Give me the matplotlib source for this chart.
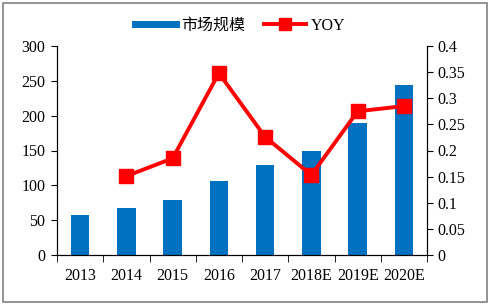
import matplotlib
matplotlib.use("Agg")
import matplotlib.pyplot as plt
from matplotlib.patches import Rectangle
from matplotlib.lines import Line2D

categories = ["2013", "2014", "2015", "2016", "2017", "2018E", "2019E", "2020E"]
market = [58, 67, 79, 106, 129, 149, 190, 244]
yoy_cats = ["2014", "2015", "2016", "2017", "2018E", "2019E", "2020E"]
yoy = [0.151, 0.185, 0.348, 0.226, 0.153, 0.275, 0.285]

plt.rcParams['font.family'] = ['Liberation Serif', 'Noto Sans CJK SC']

fig = plt.figure(figsize=(4.90, 3.05), dpi=100)
fig.patches.append(Rectangle((0.006, 0.01), 0.988, 0.98, transform=fig.transFigure,
                             fill=False, edgecolor='#808080', linewidth=1.2))
ax = fig.add_axes([57/490, 1-255/305, (427-57)/490, (255-46)/305])
x = list(range(len(categories)))
ax.bar(x, market, width=0.4, color='#0070C0', zorder=2)
ax.set_ylim(0, 300)
ax.set_yticks(range(0, 301, 50))
ax.set_xlim(-0.5, len(categories) - 0.5)
ax.set_xticks(x)
ax.set_xticklabels(categories)
ax.set_xticks([i + 0.5 for i in range(-1, len(categories))], minor=True)
ax.tick_params(axis='x', which='major', length=0, labelsize=11.5, pad=9.5)
ax.tick_params(axis='x', which='minor', length=5, direction='out', color='black')
ax.tick_params(axis='y', length=4, direction='out', labelsize=11.5, color='black', pad=4.5)
ax.spines['top'].set_visible(False)
for s in ['left', 'bottom', 'right']:
    ax.spines[s].set_color('black')

ax2 = ax.twinx()
xi = [categories.index(c) for c in yoy_cats]
ax2.plot(xi, yoy, color='#FF0000', linewidth=2.8, marker='s', markersize=10, zorder=3)
ax2.set_ylim(0, 0.4)
ax2.set_yticks([0, 0.05, 0.1, 0.15, 0.2, 0.25, 0.3, 0.35, 0.4])
ax2.set_yticklabels(['0', '0.05', '0.1', '0.15', '0.2', '0.25', '0.3', '0.35', '0.4'])
ax2.tick_params(axis='y', length=4, direction='out', labelsize=11.5, color='black')
ax2.spines['top'].set_visible(False)
for s in ['left', 'bottom', 'right']:
    ax2.spines[s].set_color('black')

handles = [Line2D([0], [0], color='#0070C0', linewidth=5),
           Line2D([0], [0], color='#FF0000', linewidth=2.8, marker='s', markersize=8)]
fig.legend(handles, ['市场规模', 'YOY'], loc='center', bbox_to_anchor=(0.49, 1-26/305),
           ncol=2, frameon=False, fontsize=11.5, handlelength=2.6, columnspacing=1.2,
           handletextpad=0.3)

fig.savefig('out.png', dpi=100)
